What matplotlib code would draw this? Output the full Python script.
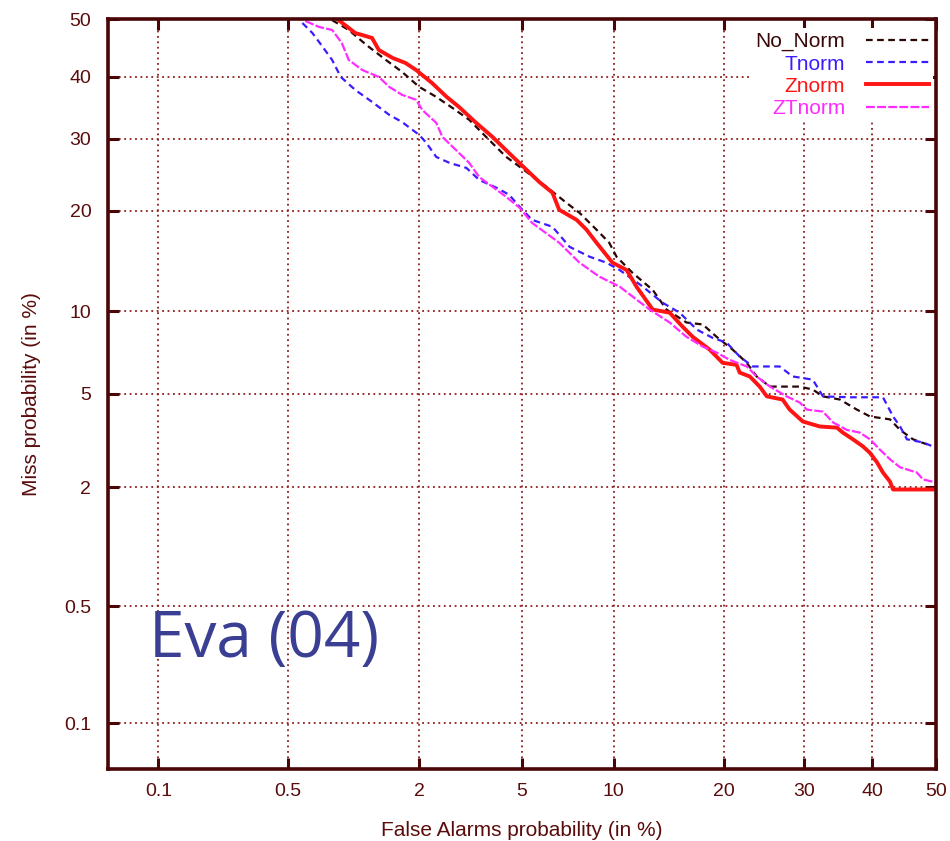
from statistics import NormalDist
import numpy as np
import matplotlib
matplotlib.use("Agg")
import matplotlib.pyplot as plt

plt.rcParams["font.family"] = ["Liberation Sans", "DejaVu Sans"]

# DET curves, values in % (false alarm, miss)
no_norm_fa = [0.82, 0.98, 1.18, 1.44, 1.69, 2.0, 2.35, 2.73, 3.18, 3.69, 4.38, 4.90, 6.08, 7.10, 7.82,
              8.86, 9.70, 10.21, 11.38, 13.01, 14.21, 16.07, 17.70, 19.16, 20.94, 22.60, 23.80, 25.46,
              29.41, 31.21, 32.66, 35.13, 37.65, 39.64, 42.74, 44.32, 46.34, 48.57]
no_norm_miss = [49.8, 48.08, 45.46, 42.87, 40.84, 38.29, 36.63, 34.83, 32.91, 30.24, 27.26, 25.84, 23.08,
                20.99, 19.77, 17.77, 16.32, 14.85, 13.28, 11.73, 10.12, 9.15, 9.01, 8.16, 7.35, 6.57, 5.84,
                5.34, 5.34, 5.20, 4.89, 4.75, 4.33, 4.06, 3.95, 3.57, 3.26, 3.10]

tnorm_fa = [0.59, 0.66, 0.74, 0.82, 0.90, 1.05, 1.25, 1.49, 1.69, 2.0, 2.14, 2.35, 2.66, 3.10, 3.47, 4.03,
            4.49, 4.90, 5.42, 6.37, 7.27, 8.43, 9.50, 10.43, 12.19, 13.84, 15.41, 17.09, 18.74, 20.27,
            21.76, 23.32, 26.71, 28.45, 31.21, 32.66, 36.60, 41.65, 43.22, 44.32, 45.39, 47.93, 50.0]
tnorm_miss = [49.3, 47.55, 45.12, 42.87, 39.97, 37.78, 35.81, 33.70, 32.58, 30.55, 29.35, 27.26, 26.39,
              25.68, 24.02, 22.96, 22.03, 20.49, 18.91, 18.10, 15.87, 14.85, 14.26, 13.54, 12.02, 10.67,
              9.88, 8.65, 8.09, 7.78, 6.93, 6.37, 6.37, 5.84, 5.68, 4.89, 4.85, 4.85, 4.06, 3.69, 3.26,
              3.16, 3.00]

znorm_fa = [0.88, 1.05, 1.25, 1.34, 1.54, 1.75, 1.94, 2.26, 2.59, 2.90, 3.38, 3.90, 4.49, 5.18, 5.74,
            6.37, 6.71, 7.66, 8.24, 8.86, 9.92, 10.94, 11.69, 13.01, 14.49, 15.68, 16.68, 18.41, 19.82,
            21.40, 21.76, 22.96, 24.17, 25.07, 27.10, 28.04, 29.83, 32.22, 34.68, 35.55, 37.05, 38.56,
            39.64, 40.72, 41.65, 42.74, 43.22, 50.0]
znorm_miss = [49.8, 47.55, 46.69, 44.60, 43.22, 42.35, 41.15, 38.94, 36.63, 34.98, 32.44, 30.24, 27.81,
              25.42, 23.74, 22.30, 20.13, 18.91, 17.77, 16.32, 14.26, 13.54, 12.02, 10.12, 9.88, 8.86,
              8.16, 7.35, 6.57, 6.46, 6.04, 5.84, 5.34, 4.89, 4.75, 4.33, 3.87, 3.69, 3.65, 3.48, 3.26,
              3.04, 2.85, 2.59, 2.33, 2.12, 1.95, 1.95]

ztnorm_fa = [0.61, 0.71, 0.82, 0.91, 0.98, 1.13, 1.34, 1.49, 1.69, 1.94, 2.06, 2.35, 2.49, 2.82, 3.18,
             3.47, 3.90, 4.38, 4.90, 5.42, 6.71, 7.82, 9.05, 10.43, 11.69, 12.76, 14.49, 16.07, 17.70,
             19.16, 20.60, 22.60, 23.80, 25.46, 27.63, 29.41, 30.37, 32.66, 34.10, 36.15, 38.10, 39.64,
             41.19, 42.74, 44.32, 46.97, 47.93, 50.0]
ztnorm_miss = [49.65, 48.61, 48.08, 45.82, 42.87, 41.15, 39.97, 38.29, 36.97, 36.15, 34.49, 32.44, 30.24,
               28.28, 26.39, 24.42, 23.08, 21.76, 20.38, 18.55, 16.32, 14.26, 12.91, 12.02, 10.92, 10.12,
               9.15, 8.16, 7.53, 7.17, 6.74, 6.37, 5.84, 5.34, 4.89, 4.62, 4.33, 4.25, 3.84, 3.57, 3.48,
               3.26, 2.94, 2.67, 2.46, 2.33, 2.17, 2.10]

ticks = [0.1, 0.5, 2, 5, 10, 20, 30, 40, 50]
tick_labels = ["0.1", "0.5", "2", "5", "10", "20", "30", "40", "50"]

# normal deviate (probit) scale for the DET plot
_nd = NormalDist()
_ppf = np.vectorize(lambda p: _nd.inv_cdf(min(max(p / 100.0, 1e-9), 1 - 1e-9)), otypes=[float])
_cdf = np.vectorize(lambda z: _nd.cdf(z) * 100.0, otypes=[float])


def probit(p):
    return _ppf(np.asarray(p, dtype=float))


def unprobit(z):
    return _cdf(np.asarray(z, dtype=float))


maroon = "#5a0c0c"

fig = plt.figure(figsize=(9.5, 8.41), dpi=100)
ax = fig.add_axes([0.1137, 0.0856, 0.8716, 0.8918])
ax.set_xscale("function", functions=(probit, unprobit))
ax.set_yscale("function", functions=(probit, unprobit))

ax.plot(no_norm_fa, no_norm_miss, color="#2a0606", lw=1.6, linestyle=(0, (3, 2)), label="No_Norm")
ax.plot(tnorm_fa, tnorm_miss, color="#3b1cff", lw=1.6, linestyle=(0, (3, 2)), label="Tnorm")
ax.plot(znorm_fa, znorm_miss, color="#ff1414", lw=2.8, label="Znorm")
ax.plot(ztnorm_fa, ztnorm_miss, color="#ff2cff", lw=1.6, linestyle=(0, (4, 1)), label="ZTnorm")

ax.set_xlim(0.05, 50)
ax.set_ylim(0.05, 50)
ax.set_xticks(ticks)
ax.set_xticklabels(tick_labels)
ax.set_yticks(ticks)
ax.set_yticklabels(tick_labels)
ax.minorticks_off()

ax.grid(True, linestyle=(0, (1, 2)), color="#8e1e1e", lw=1.3)
for s in ax.spines.values():
    s.set_color("#4a0606")
    s.set_linewidth(2.6)
ax.tick_params(direction="in", length=8, width=2.2, color="#4a0606", top=True, right=True,
               labelsize=14, labelcolor=maroon)
ax.tick_params(axis="x", pad=10)
ax.tick_params(axis="y", pad=12)

ax.set_xlabel("False Alarms probability (in %)", fontsize=15, color=maroon, labelpad=15)
ax.set_ylabel("Miss probability (in %)", fontsize=15, color=maroon, labelpad=17)

# legend box is opaque white, so grid lines stop at it
leg = ax.legend(loc="upper right", bbox_to_anchor=(0.996, 0.988), frameon=True, facecolor="white",
                edgecolor="none", framealpha=1.0, fancybox=False, markerfirst=False,
                alignment="right", labelcolor="linecolor", fontsize=15, handlelength=3.0,
                labelspacing=0.15, handletextpad=1.0, borderaxespad=0.0, borderpad=0.2)
leg.get_texts()[0].set_color("#3a0808")

ax.text(0.050, 0.149, "Eva (04)", transform=ax.transAxes, fontsize=46, color="#3a3f94",
        family=["Open Sans", "DejaVu Sans"], va="baseline", ha="left")

fig.savefig("out.png", dpi=100)
